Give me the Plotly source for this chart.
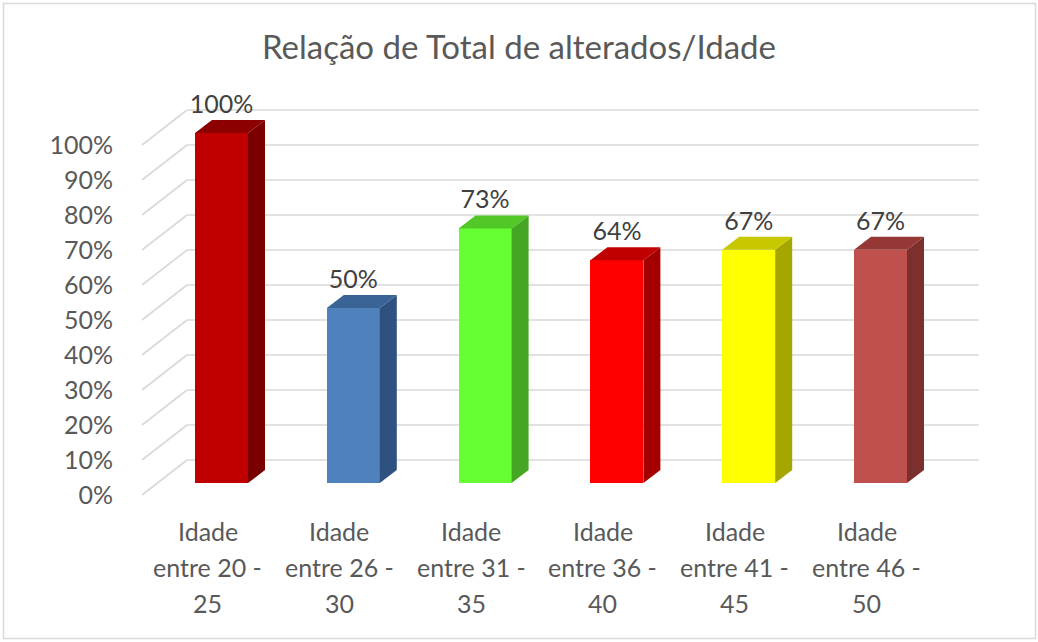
import plotly.graph_objects as go

# ---------------- data ----------------
categories = ["Idade entre 20 - 25", "Idade entre 26 - 30", "Idade entre 31 - 35",
              "Idade entre 36 - 40", "Idade entre 41 - 45", "Idade entre 46 - 50"]
category_lines = [["Idade", "entre 20 -", "25"],
                  ["Idade", "entre 26 -", "30"],
                  ["Idade", "entre 31 -", "35"],
                  ["Idade", "entre 36 -", "40"],
                  ["Idade", "entre 41 -", "45"],
                  ["Idade", "entre 46 -", "50"]]
values = [100.0, 50.0, 72.73, 63.64, 66.67, 66.67]
value_labels = ["100%", "50%", "73%", "64%", "67%", "67%"]
y_ticks = [0, 10, 20, 30, 40, 50, 60, 70, 80, 90, 100]
y_tick_labels = [f"{v}%" for v in y_ticks]

front_colors = ["#C00000", "#4F81BD", "#66FF33", "#FF0000", "#FFFF00", "#C0504D"]
side_colors = ["#7A0000", "#2F5180", "#44A622", "#A50000", "#A6A600", "#7B302E"]
top_colors = ["#8C0000", "#3B6496", "#52C828", "#C00000", "#C8C800", "#953735"]

title = "Relação de Total de alterados/Idade"

# ---------------- geometry (pixel calibration) ----------------
W, H = 1038, 642
L, R, T, B = 114, 38, 90, 142
PX_X0, PX_PER_X = 221.5, 131.8      # pixel of category 0, pixels per category
PY_Y0, PX_PER_PCT = 483.0, 3.5      # pixel of 0 %, pixels per percent

x_range = [(L - PX_X0) / PX_PER_X, (W - R - PX_X0) / PX_PER_X]
y_range = [(PY_Y0 - (H - B)) / PX_PER_PCT, (PY_Y0 - T) / PX_PER_PCT]

BAR_W = 53 / PX_PER_X
DEPTH_DX = 17 / PX_PER_X
DEPTH_DY = 13 / PX_PER_PCT
WALL_X0 = (187 - PX_X0) / PX_PER_X
WALL_X1 = (979 - PX_X0) / PX_PER_X
WALL_DY = (PY_Y0 - 460) / PX_PER_PCT
FRONT_X = (142 - PX_X0) / PX_PER_X
FRONT_DY = (PY_Y0 - 495) / PX_PER_PCT
LABEL_DX = -14 / PX_PER_X           # category labels sit on the front plane

FONT = "Lato, 'Open Sans', sans-serif"
GRID = "#D9D9D9"
pw, ph = W - L - R, H - T - B


def px_to_paper_y(py):
    return ((H - B) - py) / ph


def px_to_paper_x(px):
    return (px - L) / pw


fig = go.Figure()

# front faces (real bars)
fig.add_trace(go.Bar(
    x=list(range(len(categories))), y=values, width=BAR_W,
    marker=dict(color=front_colors, line=dict(width=0)),
    hovertext=categories, hoverinfo="text+y", showlegend=False,
))

# side and top faces (3D effect) computed from the same values
for i, v in enumerate(values):
    xr = i + BAR_W / 2
    xl = i - BAR_W / 2
    fig.add_trace(go.Scatter(
        x=[xr, xr, xr + DEPTH_DX, xr + DEPTH_DX, xr],
        y=[0, v, v + DEPTH_DY, DEPTH_DY, 0],
        fill="toself", fillcolor=side_colors[i], mode="lines",
        line=dict(width=0, color=side_colors[i]), hoverinfo="skip", showlegend=False))
    fig.add_trace(go.Scatter(
        x=[xl, xr, xr + DEPTH_DX, xl + DEPTH_DX, xl],
        y=[v, v, v + DEPTH_DY, v + DEPTH_DY, v],
        fill="toself", fillcolor=top_colors[i], mode="lines",
        line=dict(width=0, color=top_colors[i]), hoverinfo="skip", showlegend=False))

# data labels
fig.add_trace(go.Scatter(
    x=list(range(len(values))), y=[v + DEPTH_DY + 3.8 for v in values],
    text=value_labels, mode="text", textposition="middle center",
    textfont=dict(family=FONT, size=25, color="#404040"),
    hoverinfo="skip", showlegend=False, cliponaxis=False))

# invisible trace for the front-plane percentage axis
fig.add_trace(go.Scatter(x=[FRONT_X] * len(y_ticks), y=y_ticks, yaxis="y2",
                         mode="markers", marker=dict(opacity=0), hoverinfo="skip",
                         showlegend=False))

# gridlines: side wall diagonals + back wall horizontals
shapes = []
for v in y_ticks:
    shapes.append(dict(type="line", xref="x", yref="y", layer="below",
                       x0=FRONT_X, y0=v + FRONT_DY, x1=WALL_X0, y1=v + WALL_DY,
                       line=dict(color=GRID, width=1.6)))
    shapes.append(dict(type="line", xref="x", yref="y", layer="below",
                       x0=WALL_X0, y0=v + WALL_DY, x1=WALL_X1, y1=v + WALL_DY,
                       line=dict(color=GRID, width=1.6)))

# outer chart border
shapes.append(dict(type="rect", xref="paper", yref="paper", layer="below",
                   x0=px_to_paper_x(3.5), x1=px_to_paper_x(1035.5),
                   y0=px_to_paper_y(638.5), y1=px_to_paper_y(3.5),
                   line=dict(color=GRID, width=1.5)))

# category labels (three lines each)
line_px = [531, 567, 603]
annotations = []
for i, lines in enumerate(category_lines):
    for j, txt in enumerate(lines):
        annotations.append(dict(x=i + LABEL_DX, y=px_to_paper_y(line_px[j]), xref="x", yref="paper",
                                text=txt, showarrow=False, xanchor="center", yanchor="middle",
                                font=dict(family=FONT, size=25, color="#595959")))

s = -FRONT_DY
fig.update_layout(
    width=W, height=H,
    margin=dict(l=L, r=R, t=T, b=B),
    paper_bgcolor="white", plot_bgcolor="white",
    title=dict(text=title, x=0.5, xref="container", xanchor="center",
               y=1 - 47 / H, yref="container", yanchor="middle",
               font=dict(family=FONT, size=33, color="#595959")),
    xaxis=dict(range=x_range, visible=False, fixedrange=True),
    yaxis=dict(range=y_range, showgrid=False, zeroline=False, showticklabels=False,
               showline=False, fixedrange=True),
    yaxis2=dict(range=[y_range[0] + s, y_range[1] + s], overlaying="y", side="left",
                anchor="x", tickvals=y_ticks, ticktext=y_tick_labels, showgrid=False,
                zeroline=False, showline=False, ticks="", fixedrange=True,
                tickfont=dict(family=FONT, size=25, color="#595959")),
    shapes=shapes, annotations=annotations,
    showlegend=False, bargap=0,
)

fig.write_html("out.html", config={"displayModeBar": False},
               post_script="document.body.style.margin='0px';")
